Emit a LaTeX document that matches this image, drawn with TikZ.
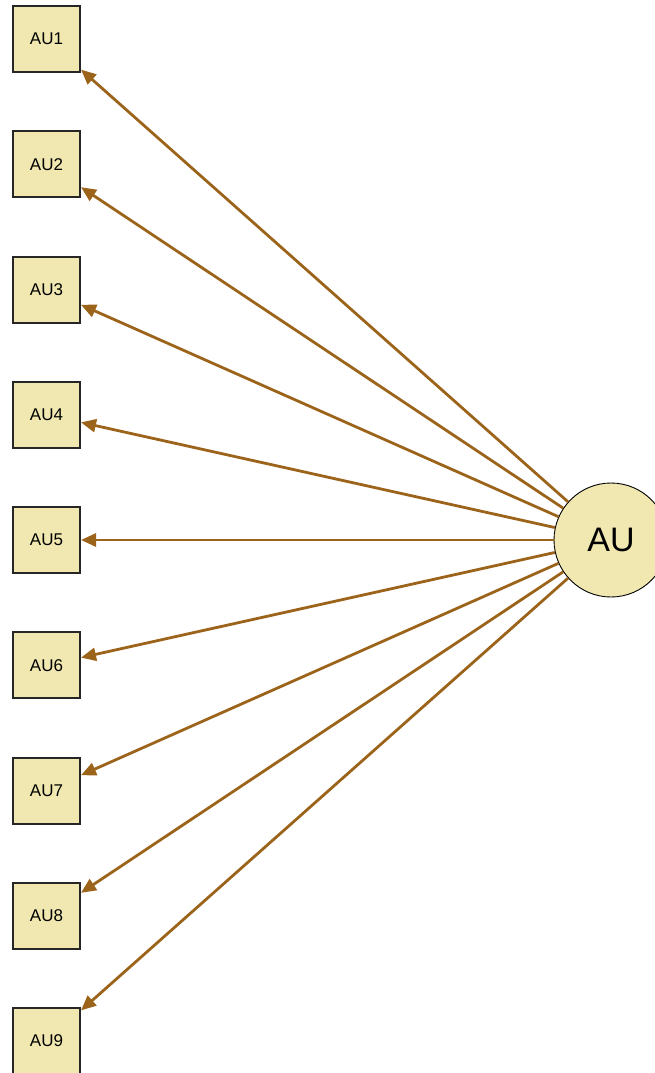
\documentclass[tikz,border=0pt]{standalone}
\usepackage{fontspec}
\setmainfont{Liberation Sans}
\usetikzlibrary{arrows.meta}
\definecolor{boxfill}{RGB}{240,232,176}
\definecolor{arrowc}{RGB}{155,100,26}
\begin{document}
\begin{tikzpicture}[x=1pt,y=-1pt,
  obs/.style={draw=black!85,line width=2pt,fill=boxfill,minimum width=67pt,minimum height=66pt,inner sep=0pt,font=\fontsize{17}{19}\selectfont},
  lat/.style={circle,draw=black,line width=0.9pt,fill=boxfill,minimum size=114pt,inner sep=0pt,font=\fontsize{34}{38}\selectfont},
  load/.style={draw=arrowc,line width=2.8pt,-{Triangle[length=15pt,width=13pt]}}]
\useasboundingbox (0,0) rectangle (655,1073);
\node[lat] (AU) at (611,540) {AU};
\foreach \i in {1,...,9} {
  \node[obs] (AU\i) at (46.5,{39+(\i-1)*125.25}) {AU\i};
  \draw[load] (AU) -- (AU\i);
}
\end{tikzpicture}
\end{document}
